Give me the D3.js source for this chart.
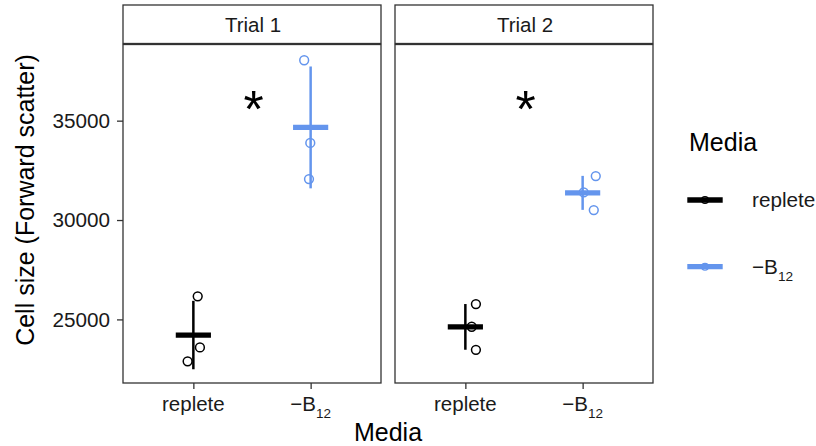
<!DOCTYPE html>
<html>
<head>
<meta charset="utf-8">
<script src="https://cdn.jsdelivr.net/npm/d3@7"></script>
<style>
  html, body { margin: 0; padding: 0; background: #fff; }
  svg { display: block; font-family: "Liberation Sans", Arial, Helvetica, sans-serif; }
</style>
</head>
<body>
<svg id="chart" width="816" height="446"></svg>
<script>
// Facets and categories
const trials = ["Trial 1", "Trial 2"];
const media = ["replete", "minusB12"];
const mediaColors = ["#000000", "#6495ED"];

// Forward-scatter cell size, three replicates per group
const trial1Replete = [26160, 23590, 22890];
const trial1MinusB12 = [38040, 33880, 32060];
const trial2Replete = [25770, 24630, 23470];
const trial2MinusB12 = [32210, 31390, 30500];

// Horizontal jitter of the replicate points (in category-step units)
const trial1RepleteJitter = [0.037, 0.056, -0.049];
const trial1MinusB12Jitter = [-0.055, -0.003, -0.014];
const trial2RepleteJitter = [0.09, 0.054, 0.09];
const trial2MinusB12Jitter = [0.112, 0.009, 0.095];

// Axis ticks and range
const yTicks = [25000, 30000, 35000];
const yDomain = [21800, 38832];

// Significance marker per facet
const signifLabel = "*";
const signifY = [36000, 36000];

const groups = [
  { trial: trials[0], media: media[0], values: trial1Replete, jitter: trial1RepleteJitter },
  { trial: trials[0], media: media[1], values: trial1MinusB12, jitter: trial1MinusB12Jitter },
  { trial: trials[1], media: media[0], values: trial2Replete, jitter: trial2RepleteJitter },
  { trial: trials[1], media: media[1], values: trial2MinusB12, jitter: trial2MinusB12Jitter }
];

const svg = d3.select("#chart");
const ink = "#1a1a1a";
const frame = "#333333";

const panelTop = 44.5, panelBottom = 383, stripTop = 5;
const facetX = d3.scaleBand().domain(trials).range([123, 653]).paddingInner(14 / 272).paddingOuter(0);
const y = d3.scaleLinear().domain(yDomain).range([panelBottom, panelTop]);
const colour = d3.scaleOrdinal().domain(media).range(mediaColors);

// Writes a media label; the vitamin one gets a subscript
function mediaLabel(sel, m, size) {
  if (m === "replete") {
    sel.text("replete");
  } else {
    sel.append("tspan").text("\u2212B");
    sel.append("tspan").attr("font-size", size * 0.66).attr("dy", size * 0.34).text("12");
  }
}

trials.forEach((t, ti) => {
  const left = facetX(t), w = facetX.bandwidth();
  const x = d3.scalePoint().domain(media).range([left, left + w]).padding(0.6);
  const step = x.step();
  const g = svg.append("g");

  // panel background and border
  g.append("rect").attr("x", left).attr("y", panelTop).attr("width", w).attr("height", panelBottom - panelTop)
    .attr("fill", "#fff").attr("stroke", frame).attr("stroke-width", 1.3);

  // strip
  g.append("rect").attr("x", left).attr("y", stripTop).attr("width", w).attr("height", panelTop - 1 - stripTop)
    .attr("fill", "#fff").attr("stroke", frame).attr("stroke-width", 1.3);
  g.append("text").attr("x", left + w / 2 + 1).attr("y", 32).attr("text-anchor", "middle")
    .attr("font-size", 20.5).attr("fill", ink).text(t);

  // x axis
  const xAxis = g.append("g").attr("transform", `translate(0,${panelBottom})`)
    .call(d3.axisBottom(x).tickSize(6).tickFormat(""));
  xAxis.select(".domain").remove();
  xAxis.selectAll("line").attr("stroke", frame).attr("stroke-width", 1.3);
  media.forEach(m => {
    const lab = g.append("text").attr("x", x(m)).attr("y", 411).attr("text-anchor", "middle")
      .attr("font-size", 20.5).attr("fill", ink);
    mediaLabel(lab, m, 20.5);
  });

  // y axis on the first facet only
  if (ti === 0) {
    const yAxis = g.append("g").attr("transform", `translate(${left},0)`)
      .call(d3.axisLeft(y).tickValues(yTicks).tickSize(6).tickPadding(0).tickFormat(d3.format("d")));
    yAxis.select(".domain").remove();
    yAxis.selectAll("line").attr("stroke", frame).attr("stroke-width", 1.3);
    yAxis.selectAll("text").remove();
    yTicks.forEach(v => {
      g.append("text").attr("x", left - 13).attr("y", y(v) + 7.4).attr("text-anchor", "end")
        .attr("font-size", 20.7).attr("fill", ink).text(d3.format("d")(v));
    });
  }

  // replicate points, error bars (mean ± SD) and mean crossbar
  groups.filter(d => d.trial === t).forEach(d => {
    const c = colour(d.media);
    const cx = x(d.media);
    const mean = d3.mean(d.values), sd = d3.deviation(d.values);
    g.selectAll(null).data(d.values).join("circle")
      .attr("cx", (v, i) => cx + d.jitter[i] * step)
      .attr("cy", v => y(v))
      .attr("r", 4.4)
      .attr("fill", "none").attr("stroke", c).attr("stroke-width", 1.5);
    g.append("line").attr("x1", cx).attr("x2", cx).attr("y1", y(mean + sd)).attr("y2", y(mean - sd))
      .attr("stroke", c).attr("stroke-width", 2.5);
    g.append("line").attr("x1", cx - 0.15 * step).attr("x2", cx + 0.15 * step)
      .attr("y1", y(mean)).attr("y2", y(mean))
      .attr("stroke", c).attr("stroke-width", 5.3);
  });

  // significance asterisk between the two media
  g.append("text").attr("x", (x(media[0]) + x(media[1])) / 2 + 1.5).attr("y", y(signifY[ti]) + 26)
    .attr("text-anchor", "middle").attr("font-size", 52).attr("fill", "#000").text(signifLabel);
});

// axis titles
svg.append("text").attr("x", 388).attr("y", 441).attr("text-anchor", "middle")
  .attr("font-size", 25).attr("fill", "#000").text("Media");
svg.append("text").attr("transform", "translate(33.5,200) rotate(-90)").attr("text-anchor", "middle")
  .attr("font-size", 25).attr("fill", "#000").text("Cell size (Forward scatter)");

// legend
const legend = svg.append("g");
legend.append("text").attr("x", 689).attr("y", 151).attr("font-size", 25).attr("fill", "#000").text("Media");
const keyY = d3.scalePoint().domain(media).range([200, 266.7]);
media.forEach(m => {
  const c = colour(m), ky = keyY(m);
  legend.append("line").attr("x1", 687.3).attr("x2", 722.7).attr("y1", ky).attr("y2", ky)
    .attr("stroke", c).attr("stroke-width", 5.3);
  legend.append("circle").attr("cx", 705).attr("cy", ky).attr("r", 3.4)
    .attr("fill", "none").attr("stroke", c).attr("stroke-width", 1.3);
  const lab = legend.append("text").attr("x", 752).attr("y", ky + 7.2)
    .attr("font-size", 20.7).attr("fill", ink);
  mediaLabel(lab, m, 20.7);
});
</script>
</body>
</html>
